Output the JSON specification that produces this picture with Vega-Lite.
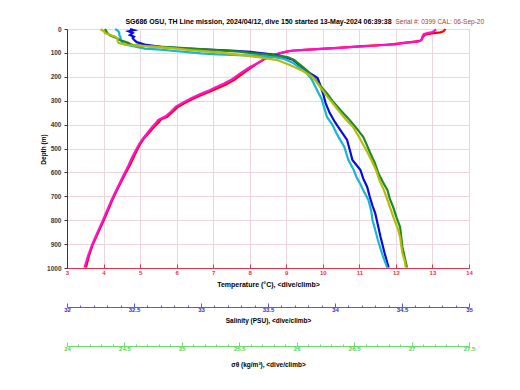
{
"$schema": "https://vega.github.io/schema/vega-lite/v6.json",
"width": 402, "height": 239,
"autosize": {"type": "none"},
"padding": {"left": 67, "top": 29, "right": 51, "bottom": 122},
"background": "white",
"config": {"view": {"stroke": "#e0405a", "strokeWidth": 1}, "font": "Liberation Sans"},
"datasets": {
"temp": [
{"c":"dive","d":0,"v":13.35},{"c":"dive","d":5,"v":13.33},{"c":"dive","d":10,"v":13.3},{"c":"dive","d":14,"v":13.22},{"c":"dive","d":18,"v":12.98},{"c":"dive","d":24,"v":12.8},{"c":"dive","d":32,"v":12.74},{"c":"dive","d":42,"v":12.72},{"c":"dive","d":50,"v":12.66},{"c":"dive","d":55,"v":12.4},{"c":"dive","d":59,"v":12.15},{"c":"dive","d":63,"v":11.95},{"c":"dive","d":67,"v":11.6},{"c":"dive","d":71,"v":11.2},{"c":"dive","d":75,"v":10.8},{"c":"dive","d":79,"v":10.4},{"c":"dive","d":83,"v":9.95},{"c":"dive","d":87,"v":9.5},{"c":"dive","d":91,"v":9.15},{"c":"dive","d":97,"v":8.95},{"c":"dive","d":105,"v":8.75},{"c":"dive","d":115,"v":8.55},{"c":"dive","d":128,"v":8.38},{"c":"dive","d":145,"v":8.2},{"c":"dive","d":164,"v":8.02},{"c":"dive","d":188,"v":7.8},{"c":"dive","d":213,"v":7.58},{"c":"dive","d":232,"v":7.35},{"c":"dive","d":248,"v":7.12},{"c":"dive","d":262,"v":6.9},{"c":"dive","d":276,"v":6.68},{"c":"dive","d":292,"v":6.45},{"c":"dive","d":310,"v":6.22},{"c":"dive","d":328,"v":6.02},{"c":"dive","d":348,"v":5.88},{"c":"dive","d":367,"v":5.74},{"c":"dive","d":378,"v":5.58},{"c":"dive","d":392,"v":5.5},{"c":"dive","d":410,"v":5.38},{"c":"dive","d":435,"v":5.24},{"c":"dive","d":455,"v":5.12},{"c":"dive","d":477,"v":5.02},{"c":"dive","d":505,"v":4.92},{"c":"dive","d":535,"v":4.83},{"c":"dive","d":570,"v":4.72},{"c":"dive","d":605,"v":4.6},{"c":"dive","d":640,"v":4.48},{"c":"dive","d":680,"v":4.35},{"c":"dive","d":716,"v":4.24},{"c":"dive","d":760,"v":4.12},{"c":"dive","d":803,"v":4.0},{"c":"dive","d":850,"v":3.86},{"c":"dive","d":904,"v":3.7},{"c":"dive","d":950,"v":3.6},{"c":"dive","d":998,"v":3.52},
{"c":"climb","d":2,"v":13.1},{"c":"climb","d":8,"v":13.05},{"c":"climb","d":13,"v":13.0},{"c":"climb","d":17,"v":12.86},{"c":"climb","d":22,"v":12.76},{"c":"climb","d":30,"v":12.73},{"c":"climb","d":40,"v":12.71},{"c":"climb","d":48,"v":12.69},{"c":"climb","d":53,"v":12.6},{"c":"climb","d":57,"v":12.3},{"c":"climb","d":61,"v":12.1},{"c":"climb","d":64,"v":12.0},{"c":"climb","d":67,"v":11.7},{"c":"climb","d":70,"v":11.4},{"c":"climb","d":73,"v":11.1},{"c":"climb","d":76,"v":10.75},{"c":"climb","d":79,"v":10.45},{"c":"climb","d":81,"v":10.2},{"c":"climb","d":84,"v":9.85},{"c":"climb","d":87,"v":9.5},{"c":"climb","d":90,"v":9.2},{"c":"climb","d":94,"v":9.0},{"c":"climb","d":102,"v":8.8},{"c":"climb","d":112,"v":8.6},{"c":"climb","d":125,"v":8.4},{"c":"climb","d":142,"v":8.22},{"c":"climb","d":160,"v":8.0},{"c":"climb","d":185,"v":7.75},{"c":"climb","d":210,"v":7.52},{"c":"climb","d":228,"v":7.3},{"c":"climb","d":245,"v":7.06},{"c":"climb","d":260,"v":6.85},{"c":"climb","d":274,"v":6.62},{"c":"climb","d":290,"v":6.4},{"c":"climb","d":308,"v":6.17},{"c":"climb","d":325,"v":5.98},{"c":"climb","d":345,"v":5.85},{"c":"climb","d":365,"v":5.7},{"c":"climb","d":380,"v":5.5},{"c":"climb","d":395,"v":5.42},{"c":"climb","d":412,"v":5.32},{"c":"climb","d":437,"v":5.19},{"c":"climb","d":458,"v":5.08},{"c":"climb","d":480,"v":4.98},{"c":"climb","d":508,"v":4.88},{"c":"climb","d":538,"v":4.78},{"c":"climb","d":572,"v":4.68},{"c":"climb","d":608,"v":4.56},{"c":"climb","d":645,"v":4.44},{"c":"climb","d":683,"v":4.32},{"c":"climb","d":718,"v":4.21},{"c":"climb","d":762,"v":4.09},{"c":"climb","d":805,"v":3.97},{"c":"climb","d":852,"v":3.83},{"c":"climb","d":905,"v":3.68},{"c":"climb","d":952,"v":3.57},{"c":"climb","d":998,"v":3.48}
],
"sal": [
{"c":"dive","d":0,"v":32.47},{"c":"dive","d":5,"v":32.5},{"c":"dive","d":10,"v":32.46},{"c":"dive","d":17,"v":32.49},{"c":"dive","d":25,"v":32.47},{"c":"dive","d":32,"v":32.5},{"c":"dive","d":38,"v":32.49},{"c":"dive","d":45,"v":32.5},{"c":"dive","d":55,"v":32.52},{"c":"dive","d":65,"v":32.58},{"c":"dive","d":75,"v":32.7},{"c":"dive","d":82,"v":32.88},{"c":"dive","d":86,"v":33.05},{"c":"dive","d":90,"v":33.22},{"c":"dive","d":96,"v":33.37},{"c":"dive","d":103,"v":33.48},{"c":"dive","d":109,"v":33.57},{"c":"dive","d":120,"v":33.64},{"c":"dive","d":130,"v":33.69},{"c":"dive","d":145,"v":33.72},{"c":"dive","d":159,"v":33.75},{"c":"dive","d":184,"v":33.81},{"c":"dive","d":205,"v":33.87},{"c":"dive","d":235,"v":33.89},{"c":"dive","d":268,"v":33.91},{"c":"dive","d":310,"v":33.93},{"c":"dive","d":351,"v":33.96},{"c":"dive","d":390,"v":34.0},{"c":"dive","d":423,"v":34.04},{"c":"dive","d":464,"v":34.09},{"c":"dive","d":505,"v":34.11},{"c":"dive","d":548,"v":34.13},{"c":"dive","d":590,"v":34.19},{"c":"dive","d":625,"v":34.21},{"c":"dive","d":661,"v":34.24},{"c":"dive","d":703,"v":34.26},{"c":"dive","d":740,"v":34.28},{"c":"dive","d":770,"v":34.3},{"c":"dive","d":820,"v":34.32},{"c":"dive","d":870,"v":34.34},{"c":"dive","d":937,"v":34.37},{"c":"dive","d":998,"v":34.4},
{"c":"climb","d":0,"v":32.36},{"c":"climb","d":8,"v":32.38},{"c":"climb","d":15,"v":32.39},{"c":"climb","d":25,"v":32.39},{"c":"climb","d":35,"v":32.4},{"c":"climb","d":45,"v":32.4},{"c":"climb","d":55,"v":32.41},{"c":"climb","d":63,"v":32.42},{"c":"climb","d":67,"v":32.45},{"c":"climb","d":75,"v":32.52},{"c":"climb","d":82,"v":32.58},{"c":"climb","d":86,"v":32.7},{"c":"climb","d":92,"v":32.8},{"c":"climb","d":97,"v":32.9},{"c":"climb","d":102,"v":33.0},{"c":"climb","d":106,"v":33.12},{"c":"climb","d":109,"v":33.28},{"c":"climb","d":112,"v":33.42},{"c":"climb","d":118,"v":33.55},{"c":"climb","d":125,"v":33.62},{"c":"climb","d":140,"v":33.68},{"c":"climb","d":155,"v":33.72},{"c":"climb","d":180,"v":33.78},{"c":"climb","d":205,"v":33.82},{"c":"climb","d":226,"v":33.84},{"c":"climb","d":260,"v":33.87},{"c":"climb","d":293,"v":33.9},{"c":"climb","d":330,"v":33.92},{"c":"climb","d":368,"v":33.94},{"c":"climb","d":400,"v":33.98},{"c":"climb","d":435,"v":34.01},{"c":"climb","d":465,"v":34.04},{"c":"climb","d":494,"v":34.07},{"c":"climb","d":548,"v":34.1},{"c":"climb","d":590,"v":34.14},{"c":"climb","d":619,"v":34.16},{"c":"climb","d":650,"v":34.19},{"c":"climb","d":674,"v":34.21},{"c":"climb","d":716,"v":34.25},{"c":"climb","d":760,"v":34.27},{"c":"climb","d":799,"v":34.28},{"c":"climb","d":840,"v":34.3},{"c":"climb","d":883,"v":34.32},{"c":"climb","d":920,"v":34.34},{"c":"climb","d":954,"v":34.36},{"c":"climb","d":998,"v":34.39}
],
"sig": [
{"c":"dive","d":0,"v":24.33},{"c":"dive","d":8,"v":24.34},{"c":"dive","d":16,"v":24.35},{"c":"dive","d":25,"v":24.37},{"c":"dive","d":35,"v":24.42},{"c":"dive","d":46,"v":24.46},{"c":"dive","d":56,"v":24.52},{"c":"dive","d":67,"v":24.57},{"c":"dive","d":73,"v":24.75},{"c":"dive","d":78,"v":24.95},{"c":"dive","d":82,"v":25.1},{"c":"dive","d":88,"v":25.3},{"c":"dive","d":95,"v":25.5},{"c":"dive","d":102,"v":25.63},{"c":"dive","d":109,"v":25.8},{"c":"dive","d":117,"v":25.92},{"c":"dive","d":130,"v":25.98},{"c":"dive","d":150,"v":26.03},{"c":"dive","d":170,"v":26.08},{"c":"dive","d":184,"v":26.11},{"c":"dive","d":210,"v":26.16},{"c":"dive","d":240,"v":26.21},{"c":"dive","d":268,"v":26.26},{"c":"dive","d":300,"v":26.31},{"c":"dive","d":339,"v":26.38},{"c":"dive","d":381,"v":26.46},{"c":"dive","d":415,"v":26.52},{"c":"dive","d":452,"v":26.58},{"c":"dive","d":485,"v":26.61},{"c":"dive","d":519,"v":26.64},{"c":"dive","d":560,"v":26.68},{"c":"dive","d":603,"v":26.71},{"c":"dive","d":640,"v":26.75},{"c":"dive","d":674,"v":26.79},{"c":"dive","d":710,"v":26.81},{"c":"dive","d":745,"v":26.84},{"c":"dive","d":790,"v":26.87},{"c":"dive","d":828,"v":26.9},{"c":"dive","d":870,"v":26.91},{"c":"dive","d":912,"v":26.92},{"c":"dive","d":955,"v":26.94},{"c":"dive","d":998,"v":26.96},
{"c":"climb","d":0,"v":24.31},{"c":"climb","d":4,"v":24.3},{"c":"climb","d":10,"v":24.32},{"c":"climb","d":17,"v":24.33},{"c":"climb","d":25,"v":24.38},{"c":"climb","d":32,"v":24.42},{"c":"climb","d":38,"v":24.44},{"c":"climb","d":50,"v":24.44},{"c":"climb","d":59,"v":24.45},{"c":"climb","d":67,"v":24.52},{"c":"climb","d":71,"v":24.65},{"c":"climb","d":75,"v":24.78},{"c":"climb","d":82,"v":24.95},{"c":"climb","d":88,"v":25.07},{"c":"climb","d":94,"v":25.22},{"c":"climb","d":100,"v":25.36},{"c":"climb","d":108,"v":25.5},{"c":"climb","d":117,"v":25.65},{"c":"climb","d":124,"v":25.75},{"c":"climb","d":130,"v":25.83},{"c":"climb","d":151,"v":25.94},{"c":"climb","d":175,"v":26.05},{"c":"climb","d":201,"v":26.14},{"c":"climb","d":240,"v":26.2},{"c":"climb","d":285,"v":26.27},{"c":"climb","d":320,"v":26.33},{"c":"climb","d":351,"v":26.38},{"c":"climb","d":380,"v":26.43},{"c":"climb","d":410,"v":26.49},{"c":"climb","d":450,"v":26.54},{"c":"climb","d":494,"v":26.59},{"c":"climb","d":520,"v":26.62},{"c":"climb","d":548,"v":26.65},{"c":"climb","d":590,"v":26.69},{"c":"climb","d":632,"v":26.72},{"c":"climb","d":675,"v":26.76},{"c":"climb","d":715,"v":26.79},{"c":"climb","d":757,"v":26.82},{"c":"climb","d":799,"v":26.85},{"c":"climb","d":835,"v":26.88},{"c":"climb","d":870,"v":26.9},{"c":"climb","d":905,"v":26.91},{"c":"climb","d":937,"v":26.92},{"c":"climb","d":970,"v":26.94},{"c":"climb","d":998,"v":26.95}
]
},
"encoding": {
"y": {"field": "d", "type": "quantitative", "scale": {"domain": [0, 1000], "reverse": true, "nice": false, "zero": false},
 "axis": {"values": [0,100,200,300,400,500,600,700,800,900,1000], "format": "d", "title": "Depth (m)", "titleFontSize": 6.5, "titleFontWeight": "bold", "titleColor": "#000000", "titleX": -24, "titleY": 120, "titleAngle": 270, "titleAlign": "center", "titleBaseline": "middle", "labelFontSize": 6.5, "labelFontWeight": "bold", "labelColor": "#3a3a3a", "labelPadding": 3, "domainColor": "#3a3a3a", "tickColor": "#3a3a3a", "tickSize": 3, "grid": true, "gridColor": "#ecd6dc", "labelFlush": false}}
},
"layer": [
{"data": {"name": "temp"}, "mark": {"type": "line", "strokeWidth": 2.2},
 "encoding": {
  "x": {"field": "v", "type": "quantitative", "scale": {"domain": [3, 14], "nice": false, "zero": false},
   "axis": {"orient": "bottom", "values": [3,4,5,6,7,8,9,10,11,12,13,14], "title": "Temperature (°C), <dive/climb>", "titleFontSize": 7, "titleFontWeight": "bold", "titleColor": "#000000", "titleX": 201, "titleY": 16, "titleAlign": "center", "titleBaseline": "middle", "labelColor": "#e8304a", "labelFontSize": 6, "labelFontWeight": "bold", "labelPadding": 5, "labelFlush": false, "domainColor": "#e8304a", "tickColor": "#e8304a", "tickSize": -4, "grid": true, "gridColor": "#ecd6dc"}},
  "color": {"field": "c", "type": "nominal", "scale": {"domain": ["dive", "climb"], "range": ["#ff0000", "#ff10cc"]}, "legend": null},
  "order": {"field": "d", "type": "quantitative"}
 }},
{"data": {"name": "sal"}, "mark": {"type": "line", "strokeWidth": 2.2},
 "encoding": {
  "x": {"field": "v", "type": "quantitative", "scale": {"domain": [32, 35], "nice": false, "zero": false},
   "axis": {"orient": "bottom", "offset": 39, "values": [32,32.1,32.2,32.3,32.4,32.5,32.6,32.7,32.8,32.9,33,33.1,33.2,33.3,33.4,33.5,33.6,33.7,33.8,33.9,34,34.1,34.2,34.3,34.4,34.5,34.6,34.7,34.8,34.9,35],
    "labelExpr": "round(datum.value*10)%5==0 ? ''+(round(datum.value*10)/10) : ''",
    "tickSize": {"condition": {"test": "round(datum.value*10)%5==0", "value": -4}, "value": -2},
    "title": "Salinity (PSU), <dive/climb>", "titleFontSize": 6.5, "titleFontWeight": "bold", "titleColor": "#000000", "titleX": 201, "titleY": 13, "titleAlign": "center", "titleBaseline": "middle", "labelColor": "#3030c8", "labelFontSize": 6, "labelFontWeight": "bold", "labelPadding": 3, "labelFlush": false, "domainColor": "#5a5ad8", "tickColor": "#5a5ad8", "grid": false}},
  "color": {"field": "c", "type": "nominal", "scale": {"domain": ["dive", "climb"], "range": ["#0a0ae0", "#1cb4d2"]}, "legend": null},
  "order": {"field": "d", "type": "quantitative"}
 }},
{"data": {"name": "sig"}, "mark": {"type": "line", "strokeWidth": 2.2},
 "encoding": {
  "x": {"field": "v", "type": "quantitative", "scale": {"domain": [24, 27.5], "nice": false, "zero": false},
   "axis": {"orient": "bottom", "offset": 78, "values": [24,24.1,24.2,24.3,24.4,24.5,24.6,24.7,24.8,24.9,25,25.1,25.2,25.3,25.4,25.5,25.6,25.7,25.8,25.9,26,26.1,26.2,26.3,26.4,26.5,26.6,26.7,26.8,26.9,27,27.1,27.2,27.3,27.4,27.5],
    "labelExpr": "round(datum.value*10)%5==0 ? ''+(round(datum.value*10)/10) : ''",
    "tickSize": {"condition": {"test": "round(datum.value*10)%5==0", "value": -4}, "value": -2},
    "title": "σθ (kg/m³), <dive/climb>", "titleFontSize": 6.5, "titleFontWeight": "bold", "titleColor": "#000000", "titleX": 201, "titleY": 18, "titleAlign": "center", "titleBaseline": "middle", "labelColor": "#50d050", "labelFontSize": 6, "labelFontWeight": "bold", "labelPadding": 3, "labelFlush": false, "domainColor": "#66e066", "tickColor": "#66e066", "grid": false}},
  "color": {"field": "c", "type": "nominal", "scale": {"domain": ["dive", "climb"], "range": ["#1f8a1f", "#b4bc10"]}, "legend": null},
  "order": {"field": "d", "type": "quantitative"}
 }},
{"data": {"name": "temp"}, "mark": {"type": "point", "opacity": 0},
 "encoding": {
  "x": {"field": "v", "type": "quantitative", "scale": {"domain": [3, 14], "nice": false, "zero": false},
   "axis": {"orient": "top", "labels": false, "ticks": false, "domain": false, "grid": false, "title": "SG686 OSU, TH Line mission, 2024/04/12, dive 150 started 13-May-2024 06:39:38", "titleFontSize": 7, "titleFontWeight": "bold", "titleColor": "#000000", "titleX": 191, "titleY": -6, "titleAlign": "center", "titleBaseline": "alphabetic"}}
 }},
{"data": {"name": "temp"}, "mark": {"type": "point", "opacity": 0},
 "encoding": {
  "x": {"field": "v", "type": "quantitative", "scale": {"domain": [3, 14], "nice": false, "zero": false},
   "axis": {"orient": "top", "labels": false, "ticks": false, "domain": false, "grid": false, "title": "Serial #: 0399    CAL: 06-Sep-20", "titleFontSize": 6.5, "titleFontWeight": "normal", "titleColor": "#a8402e", "titleX": 328, "titleY": -6, "titleAlign": "left", "titleBaseline": "alphabetic"}}
 }}
],
"resolve": {"scale": {"x": "independent", "color": "independent"}, "axis": {"x": "independent"}}
}
